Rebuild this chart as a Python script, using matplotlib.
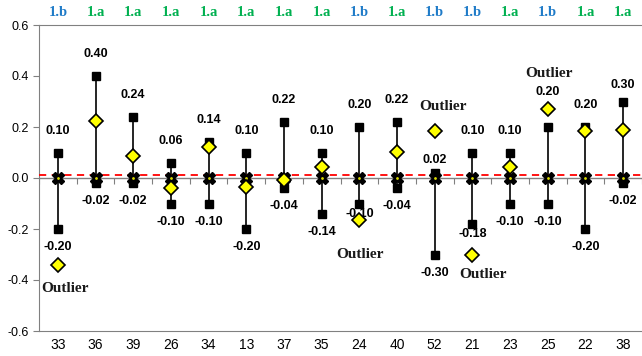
import numpy as np
from matplotlib import pyplot as plt
from matplotlib.markers import TICKDOWN

cats = ['33', '36', '39', '26', '34', '13', '37', '35', '24', '40', '52', '21', '23', '25', '22', '38']
groups = ['1.b', '1.a', '1.a', '1.a', '1.a', '1.a', '1.a', '1.a', '1.b', '1.a', '1.b', '1.b', '1.a', '1.b', '1.a', '1.a']
upper = [0.10, 0.40, 0.24, 0.06, 0.14, 0.10, 0.22, 0.10, 0.20, 0.22, 0.02, 0.10, 0.10, 0.20, 0.20, 0.30]
lower = [-0.20, -0.02, -0.02, -0.10, -0.10, -0.20, -0.04, -0.14, -0.10, -0.04, -0.30, -0.18, -0.10, -0.10, -0.20, -0.02]
observed = [-0.34, 0.225, 0.087, -0.04, 0.123, -0.034, -0.007, 0.042, -0.166, 0.103, 0.186, -0.30, 0.042, 0.272, 0.183, 0.19]
centre = [0.0] * len(cats)
threshold = 0.01
outliers = ['33', '24', '52', '21', '25']

x = np.arange(len(cats))
fig = plt.figure(figsize=(6.42, 3.56), dpi=100)
ax = fig.add_axes([39 / 642, 25 / 356, 603 / 642, 306 / 356])

ax.set_xlim(-0.5, len(cats) - 0.5)
ax.set_ylim(-0.6, 0.6)

# stems and markers
ax.vlines(x, lower, upper, color='black', lw=1.2, zorder=2)
ax.axhline(0, color='#808080', lw=1.0, zorder=1)
ax.plot(np.arange(len(cats) + 1) - 0.5, np.zeros(len(cats) + 1), ls='none',
        marker=TICKDOWN, ms=4, mew=0.8, color='#808080', zorder=1)
ax.axhline(threshold, color='red', lw=1.3, ls=(0, (4, 3)), zorder=3)
ax.plot(x, upper, 's', color='black', ms=6, zorder=4)
ax.plot(x, lower, 's', color='black', ms=6, zorder=4)
ax.plot(x, centre, 'X', color='black', ms=8, zorder=5)
ax.plot(x, centre, '.', color='#d8d800', ms=2, zorder=6)
ax.plot(x, observed, 'D', mfc='#ffff00', mec='black', mew=1.2, ms=7, zorder=7)

# value labels
hi_off = {'52': 13, '25': 35, '38': 17}
lo_off = {'24': 10, '21': 10}
for xi, c, u, l in zip(x, cats, upper, lower):
    ax.annotate(f'{u:.2f}', (xi, u), xytext=(0, hi_off.get(c, 22)), textcoords='offset pixels',
                ha='center', va='center', fontsize=9, fontweight='bold', family='Liberation Sans')
    ax.annotate(f'{l:.2f}', (xi, l), xytext=(0, -lo_off.get(c, 18)), textcoords='offset pixels',
                ha='center', va='center', fontsize=9, fontweight='bold', family='Liberation Sans')

out_off = {'33': (7, -24), '24': (1, -34), '52': (8, 24), '21': (11, -20), '25': (1, 35)}
for c in outliers:
    i = cats.index(c)
    ax.annotate('Outlier', (x[i], observed[i]), xytext=out_off[c], textcoords='offset pixels',
                ha='center', va='center', fontsize=11, fontweight='bold',
                family='Liberation Serif', color='#1a1a1a')

# group labels on top
for xi, g in zip(x, groups):
    ax.text(xi, 1.042, g, transform=ax.get_xaxis_transform(), ha='center', va='center',
            fontsize=10.5, fontweight='bold', family='Liberation Serif',
            color='#1f7bc8' if g == '1.b' else '#00b050')

ax.set_yticks(np.arange(-0.6, 0.61, 0.2))
ax.set_yticklabels([f'{v:.1f}' for v in np.arange(-0.6, 0.61, 0.2)], family='Liberation Sans', fontsize=9)
ax.set_xticks(x)
ax.set_xticklabels(cats, family='Liberation Sans', fontsize=10)
ax.tick_params(axis='x', length=0, pad=5)
ax.tick_params(axis='y', length=4, color='#808080', pad=3)

for s in ['left', 'top', 'bottom']:
    ax.spines[s].set_color('#808080')
ax.spines['right'].set_visible(False)

fig.savefig('out.png', dpi=100)
